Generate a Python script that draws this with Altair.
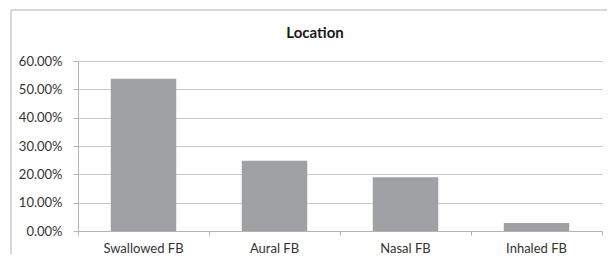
import altair as alt
import pandas as pd

categories = ["Swallowed FB", "Aural FB", "Nasal FB", "Inhaled FB"]
values = [0.537, 0.248, 0.190, 0.028]
y_ticks = [0.0, 0.1, 0.2, 0.3, 0.4, 0.5, 0.6]
boundaries = list(range(len(categories) + 1))
title_text = "Location"

df = pd.DataFrame({"cat": categories, "val": values})
df_b = pd.DataFrame({"b": boundaries})

FONT = "Lato"
TXT = "#333333"

bars = alt.Chart(df).mark_bar(color="#a0a1a5").encode(
    x=alt.X("cat:N", sort=categories, title=None,
            scale=alt.Scale(paddingInner=0.5, paddingOuter=0.25),
            axis=alt.Axis(labelAngle=0, ticks=False, labelPadding=11,
                          domainColor="#b4b4b4", labelFont=FONT, labelFontSize=13,
                          labelColor=TXT, grid=False)),
    y=alt.Y("val:Q", title=None,
            scale=alt.Scale(domain=[0, 0.6], nice=False),
            axis=alt.Axis(format=".2%", values=y_ticks, tickSize=5, labelPadding=11,
                          grid=True, gridColor="#c8c8c8", domainColor="#b4b4b4",
                          tickColor="#b4b4b4", labelFont=FONT, labelFontSize=13,
                          labelColor=TXT)),
)

ticks = alt.Chart(df_b).mark_point(opacity=0).encode(
    x=alt.X("b:Q", title=None,
            scale=alt.Scale(domain=[0, len(categories)], nice=False, zero=False),
            axis=alt.Axis(orient="bottom", values=boundaries, labels=False, domain=False,
                          grid=False, tickSize=4, tickColor="#b4b4b4")),
)

frame = alt.Chart(alt.Data(values=[{}])).mark_rect(
    fill=None, stroke="#b0b0b0", strokeWidth=1
).encode(
    x=alt.value(-67), x2=alt.value(620), y=alt.value(-51), y2=alt.value(300)
)

title = alt.Chart(alt.Data(values=[{}])).mark_text(
    text=title_text, font=FONT, fontSize=15, fontWeight="bold",
    color="#1a1a1a", align="center", baseline="middle"
).encode(x=alt.value(237), y=alt.value(-28))

chart = alt.layer(bars, ticks, frame, title).resolve_scale(x="independent").properties(
    width=524, height=170,
    autosize=alt.AutoSizeParams(type="none"),
    padding={"left": 70, "top": 53, "right": 5, "bottom": 23},
).configure_view(stroke=None)

chart.save("out.html", embed_options={"renderer": "svg", "actions": False})
